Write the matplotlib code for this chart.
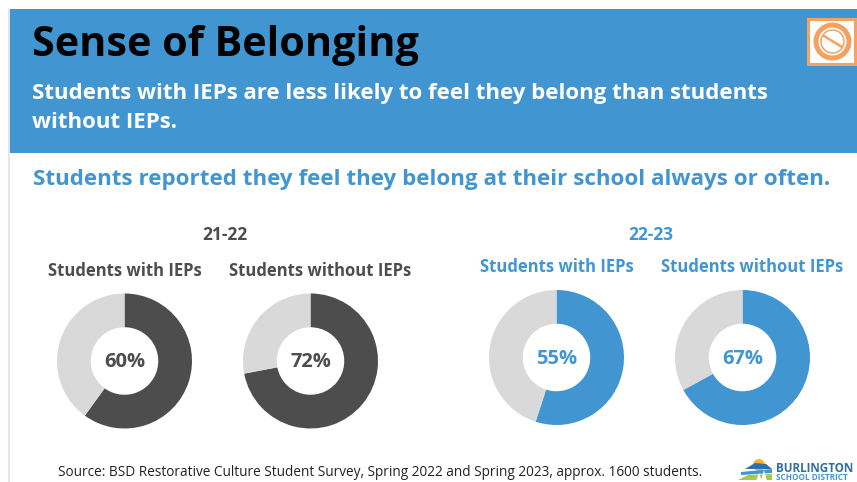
import matplotlib
matplotlib.use("Agg")
import matplotlib.pyplot as plt
from matplotlib.patches import Rectangle, Circle, Polygon

W, H = 857, 482

BLUE = "#4196d2"
DARK = "#4d4d4d"
LIGHT = "#d9d9d9"
ORANGE = "#f4a261"

TITLE = "Sense of Belonging"
SUBTITLE = "Students with IEPs are less likely to feel they belong than students\nwithout IEPs."
HEADLINE = "Students reported they feel they belong at their school always or often."
SOURCE = "Source: BSD Restorative Culture Student Survey, Spring 2022 and Spring 2023, approx. 1600 students."

groups = ["Students with IEPs", "Students without IEPs"]
years = ["21-22", "22-23"]
values_2122 = [60, 72]
values_2223 = [55, 67]

plt.rcParams["font.family"] = ["Open Sans", "DejaVu Sans"]


def px_axes(fig, cx, cy, r):
    # axes square in pixel units, y measured from the top
    return fig.add_axes([(cx - r) / W, 1 - (cy + r) / H, 2 * r / W, 2 * r / H])


def draw_donut(fig, cx, cy, value, color):
    ax = px_axes(fig, cx, cy, 67.5)
    ax.pie([value, 100 - value], colors=[color, LIGHT], startangle=90,
           counterclock=False, radius=1, wedgeprops={"width": 0.5, "linewidth": 0})
    ax.set_xlim(-1, 1)
    ax.set_ylim(-1, 1)
    ax.text(0, -0.02, f"{value}%", ha="center", va="center", fontsize=14.5,
            fontweight="bold", color=color)


def draw_badge(ax):
    # no-symbol badge in the top right corner
    ax.add_patch(Rectangle((808, 19), 47.5, 45, facecolor="white", edgecolor=ORANGE, lw=2.2))
    ax.add_patch(Circle((832.5, 41.5), 16.5, facecolor="none", edgecolor=ORANGE, lw=3.6))
    ax.add_patch(Circle((832.5, 41.5), 11.5, facecolor="none", edgecolor=ORANGE, lw=1.1))
    ax.plot([824, 842], [36, 47], color=ORANGE, lw=1.8)


def draw_logo(ax):
    # district logo: sun, hills and trees with the name beside it
    ax.add_patch(Circle((759, 465), 6, color="#f2b632", lw=0))
    ax.add_patch(Polygon([(745, 469), (755, 463), (766, 464), (772, 469)], color="#2e6fa8", lw=0))
    ax.add_patch(Polygon([(741, 472), (772, 469), (772, 473), (741, 475)], color="#4196d2", lw=0))
    ax.add_patch(Polygon([(738, 480), (748, 475), (772, 474), (772, 480)], color="#a6c84c", lw=0))
    ax.add_patch(Polygon([(761, 481), (764, 470), (767, 481)], color="white", lw=0))
    ax.add_patch(Polygon([(756, 481), (759, 473), (762, 481)], color="white", lw=0))
    ax.text(776, 468, "BURLINGTON", fontsize=8.4, fontweight="bold", color="#2f6ea5", va="center")
    ax.text(776, 478, "SCHOOL DISTRICT", fontsize=5.9, fontweight="bold", color="#4196d2", va="center")


def main():
    fig = plt.figure(figsize=(W / 100, H / 100), dpi=100, facecolor="white")

    bg = fig.add_axes([0, 0, 1, 1])
    bg.set_xlim(0, W)
    bg.set_ylim(H, 0)
    bg.axis("off")

    bg.add_patch(Rectangle((8, 9), 2, 473, color="#e4e4ec", lw=0))
    bg.add_patch(Rectangle((10, 9), W - 10, 144, color=BLUE, lw=0))
    draw_badge(bg)

    bg.text(32, 56, TITLE, fontsize=29.8, fontweight="bold", color="black", va="baseline")
    bg.text(32, 108, SUBTITLE, fontsize=16, fontweight="bold", color="white",
            va="center", linespacing=1.54)
    bg.text(33, 179, HEADLINE, fontsize=16.1, fontweight="bold", color=BLUE, va="center")

    bg.text(225, 235, years[0], fontsize=12.5, fontweight="bold", color=DARK, ha="center", va="center")
    bg.text(651, 235, years[1], fontsize=12.5, fontweight="bold", color=BLUE, ha="center", va="center")

    bg.text(124.5, 271, groups[0], fontsize=12, fontweight="bold", color=DARK, ha="center", va="center")
    bg.text(320.5, 271, groups[1], fontsize=12, fontweight="bold", color=DARK, ha="center", va="center")
    bg.text(556.5, 267, groups[0], fontsize=12, fontweight="bold", color=BLUE, ha="center", va="center")
    bg.text(752.5, 267, groups[1], fontsize=12, fontweight="bold", color=BLUE, ha="center", va="center")

    draw_donut(fig, 124.5, 361, values_2122[0], DARK)
    draw_donut(fig, 310.5, 361, values_2122[1], DARK)
    draw_donut(fig, 556.5, 357.5, values_2223[0], BLUE)
    draw_donut(fig, 742.5, 357.5, values_2223[1], BLUE)

    bg.text(380, 473, SOURCE, fontsize=9.8, color="#222222", ha="center", va="center")
    draw_logo(bg)

    fig.savefig("out.png", dpi=100)


if __name__ == "__main__":
    main()
